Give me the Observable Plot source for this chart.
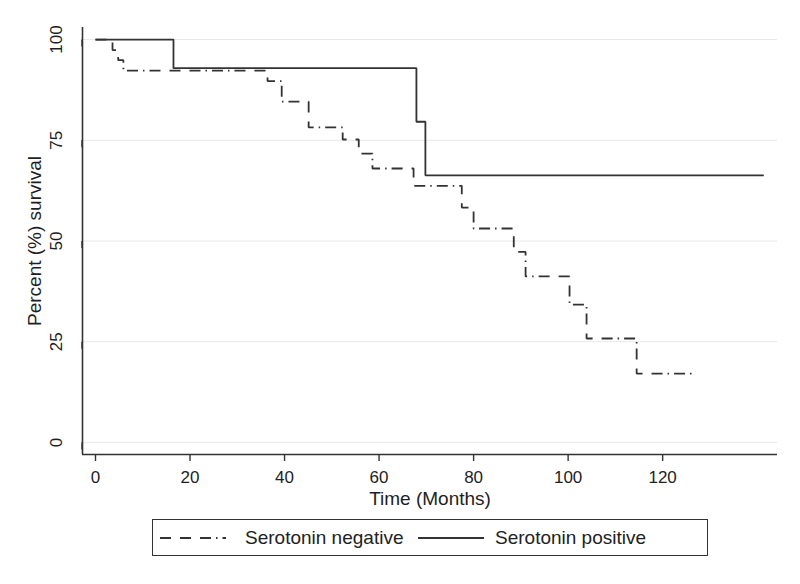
<!DOCTYPE html>
<html>
<head>
<meta charset="utf-8">
<script src="https://cdn.jsdelivr.net/npm/d3@7"></script>
<script src="https://cdn.jsdelivr.net/npm/@observablehq/plot@0.6"></script>
<style>
  body { margin: 0; background: #ffffff; font-family: "Liberation Sans", Arial, sans-serif; }
  #wrap { position: relative; width: 800px; height: 584px; background: #fff; }
  #chart { position: absolute; left: 0; top: 0; }
  #legend { position: absolute; left: 152px; top: 519px; width: 554px; height: 35px;
            border: 1.5px solid #333; background: #fff; }
  .item { position: absolute; top: 0; height: 35px; display: flex; align-items: center;
          font-size: 19px; color: #222; white-space: nowrap; }
  .item svg { display: block; }
</style>
</head>
<body>
<div id="wrap">
  <div id="chart"></div>
  <div id="legend"></div>
</div>
<script>
// ---- data ----
const seriesNames = ["Serotonin negative", "Serotonin positive"];

// Serotonin negative: step times (months) and survival (%)
const negTime = [0, 3.6, 4.8, 5.9, 36.4, 39.4, 45.1, 52.3, 55.7, 58.6, 67.3, 77.5, 80.0, 88.5, 91.0, 100.3, 103.9, 114.5, 127.0];
const negSurv = [100, 97.4, 94.9, 92.3, 89.7, 84.6, 78.2, 75.2, 71.7, 68.0, 63.7, 58.3, 53.1, 47.3, 41.2, 34.2, 25.8, 17.1, 17.1];

// Serotonin positive
const posTime = [0, 16.5, 67.9, 69.8, 141.4];
const posSurv = [100, 92.9, 79.6, 66.3, 66.3];

// axis ticks
const xTicks = [0, 20, 40, 60, 80, 100, 120];
const yTicks = [0, 25, 50, 75, 100];
const xDomain = [-2.75, 144.3];
const yDomain = [-3, 103];

const neg = negTime.map((t, i) => ({t, s: negSurv[i], g: seriesNames[0]}));
const pos = posTime.map((t, i) => ({t, s: posSurv[i], g: seriesNames[1]}));

const dashNeg = "11,9,11,9,11,5,1.5,5,11,5,1.5,5";
const lineColor = "#333333";

const chart = Plot.plot({
  width: 800,
  height: 512,
  marginLeft: 82,
  marginRight: 23,
  marginTop: 27,
  marginBottom: 58,
  x: {domain: xDomain},
  y: {domain: yDomain},
  style: {fontFamily: "'Liberation Sans', Arial, sans-serif", fontSize: "17px", color: "#1e1e24", background: "#fff", overflow: "visible"},
  marks: [
    Plot.gridY(yTicks, {stroke: "#e8e8e8", strokeOpacity: 1, strokeWidth: 1}),
    Plot.ruleX([xDomain[0]], {stroke: lineColor, strokeWidth: 1.6}),
    Plot.ruleY([yDomain[0]], {stroke: lineColor, strokeWidth: 1.6}),
    Plot.axisX({ticks: xTicks, tickSize: 7, tickPadding: 9, strokeWidth: 1.4, stroke: lineColor,
                label: "Time (Months)", labelAnchor: "center", labelArrow: "none", labelOffset: 50}),
    Plot.axisY({ticks: yTicks, tickSize: 7, tickPadding: 14, strokeWidth: 1.4, stroke: lineColor,
                rotate: -90, textAnchor: "middle", lineAnchor: "bottom",
                label: "Percent (%) survival", labelAnchor: "center", labelArrow: "none", labelOffset: 55}),
    Plot.line(neg, {x: "t", y: "s", curve: "step-after", stroke: lineColor, strokeWidth: 1.8,
                    strokeDasharray: dashNeg, strokeLinecap: "butt", strokeLinejoin: "miter"}),
    Plot.line(pos, {x: "t", y: "s", curve: "step-after", stroke: lineColor, strokeWidth: 1.8,
                    strokeLinecap: "butt", strokeLinejoin: "miter"})
  ]
});
chart.querySelectorAll('g[aria-label="x-axis label"], g[aria-label="y-axis label"]').forEach(g => {
  g.setAttribute("font-size", "19");
});
document.getElementById("chart").appendChild(chart);

// ---- legend ----
const legend = document.getElementById("legend");
const items = [
  {name: seriesNames[0], left: 7, dash: dashNeg, textGap: 19},
  {name: seriesNames[1], left: 265, dash: null, textGap: 11}
];
items.forEach(it => {
  const div = document.createElement("div");
  div.className = "item";
  div.style.left = it.left + "px";
  const ns = "http://www.w3.org/2000/svg";
  const s = document.createElementNS(ns, "svg");
  s.setAttribute("width", 66); s.setAttribute("height", 10);
  const l = document.createElementNS(ns, "line");
  l.setAttribute("x1", 0); l.setAttribute("x2", 66);
  l.setAttribute("y1", 5); l.setAttribute("y2", 5);
  l.setAttribute("stroke", lineColor); l.setAttribute("stroke-width", 1.8);
  if (it.dash) l.setAttribute("stroke-dasharray", it.dash);
  s.appendChild(l);
  div.appendChild(s);
  const span = document.createElement("span");
  span.style.marginLeft = it.textGap + "px";
  span.textContent = it.name;
  div.appendChild(span);
  legend.appendChild(div);
});
</script>
</body>
</html>
